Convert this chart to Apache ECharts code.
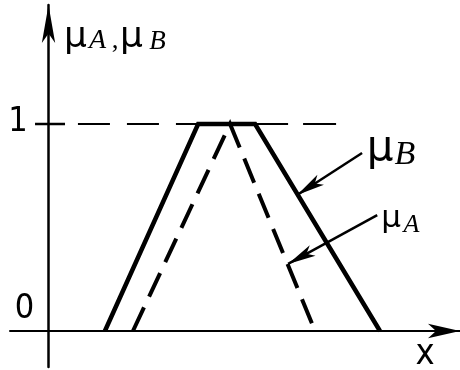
<!DOCTYPE html>
<html>
<head>
<meta charset="utf-8">
<script src="https://cdn.jsdelivr.net/npm/echarts@6.0.0/dist/echarts.min.js"></script>
<style>
  html, body { margin: 0; padding: 0; background: #fff; }
  #chart { width: 460px; height: 370px; }
</style>
</head>
<body>
<div id="chart"></div>
<script>
// Membership function B: trapezoid (solid)
const bX = [2.05, 5.44, 7.51, 12.05];
const bY = [0, 1, 1, 0];
// Membership function A: triangle (dashed)
const aX = [3.07, 6.6, 9.69];
const aY = [0, 1, 0];
// Dashed level mu = 1, interrupted where the top of B lies on it
const levelY = 1;
const levelSegments = [[1.07, 5.44], [7.51, 10.53]];
// Short solid tick crossing the y axis at mu = 1
const levelTick = [-0.49, 0.6];
// Leader lines from the curve labels: [x at curve, y at curve, x at label, y at label]
const leaderB = [9.04, 0.657, 11.4, 0.86];
const leaderA = [8.71, 0.324, 11.95, 0.56];
// Tick labels on the y axis
const yTickValues = [0, 1];
const yTickLabels = ['0', '1'];
// Axis ranges
const xRange = [-1.4, 14.96];
const yRange = [-0.174, 1.575];

const MU_FONT = '"DejaVu Sans", "Liberation Sans", sans-serif';
const SUB_FONT = '"Liberation Serif", "DejaVu Serif", serif';
const LABEL_FONT = '"Liberation Sans Narrow", "DejaVu Sans Condensed", "Liberation Sans", sans-serif';

function pairs(xs, ys) { return xs.map((x, i) => [x, ys[i]]); }

function txt(text, x, y, size, family, italic) {
  return {
    type: 'text', x: x, y: y, silent: true,
    style: {
      text: text, fill: '#000', fontSize: size, fontFamily: family,
      fontStyle: italic ? 'italic' : 'normal',
      align: 'center', verticalAlign: 'middle'
    }
  };
}

const chart = echarts.init(document.getElementById('chart'), null, { renderer: 'canvas' });

const leaderLine = (l) => [
  { coord: [l[0], l[1]], symbol: 'arrow', symbolSize: [9, 28] },
  { coord: [l[2], l[3]], symbol: 'none' }
];

chart.setOption({
  animation: false,
  backgroundColor: '#fff',
  grid: { left: 10, right: 0, top: 5, bottom: 3, containLabel: false, outerBoundsMode: 'none' },
  xAxis: {
    type: 'value', min: xRange[0], max: xRange[1],
    axisLine: {
      onZero: true, symbol: ['none', 'arrow'], symbolSize: [11, 32],
      lineStyle: { color: '#000', width: 2 }
    },
    axisTick: { show: false }, axisLabel: { show: false }, splitLine: { show: false }
  },
  yAxis: {
    type: 'value', min: yRange[0], max: yRange[1],
    axisLine: {
      onZero: true, symbol: ['none', 'arrow'], symbolSize: [10, 38],
      lineStyle: { color: '#000', width: 2.5 }
    },
    axisTick: { show: false }, axisLabel: { show: false }, splitLine: { show: false }
  },
  series: [
    {
      type: 'line', name: 'level', data: levelSegments[0].map(x => [x, levelY]),
      showSymbol: false, silent: true,
      lineStyle: { color: '#000', width: 2, type: [32, 17] }
    },
    {
      type: 'line', name: 'level', data: levelSegments[1].map(x => [x, levelY]),
      showSymbol: false, silent: true,
      lineStyle: { color: '#000', width: 2, type: [33, 15] }
    },
    {
      type: 'line', name: 'tick', data: levelTick.map(x => [x, levelY]),
      showSymbol: false, silent: true,
      lineStyle: { color: '#000', width: 2.5 }
    },
    {
      type: 'line', name: 'μB', data: pairs(bX, bY),
      showSymbol: false, silent: true,
      lineStyle: { color: '#000', width: 4.5, join: 'miter' },
      markLine: {
        silent: true, animation: false, label: { show: false },
        lineStyle: { color: '#000', width: 2.5, type: 'solid' },
        data: [leaderLine(leaderB)]
      }
    },
    {
      type: 'line', name: 'μA', data: pairs(aX, aY),
      showSymbol: false, silent: true,
      lineStyle: { color: '#000', width: 4, type: [26, 12], join: 'miter' },
      markLine: {
        silent: true, animation: false, label: { show: false },
        lineStyle: { color: '#000', width: 2.5, type: 'solid' },
        data: [leaderLine(leaderA)]
      }
    }
  ],
  graphic: [
    // y axis title: mu_A, mu_B
    txt('μ', 75.5, 38, 36, MU_FONT, false),
    txt('A', 97.5, 41, 28, SUB_FONT, true),
    txt(',', 115, 41, 27, SUB_FONT, false),
    txt('μ', 131.5, 38, 36, MU_FONT, false),
    txt('B', 157.5, 41.5, 27, SUB_FONT, true),
    // curve labels
    txt('μ', 380, 149, 42, MU_FONT, false),
    txt('B', 405, 155, 34, SUB_FONT, true),
    txt('μ', 391, 219, 31, MU_FONT, false),
    txt('A', 411.5, 225, 26, SUB_FONT, true),
    // x axis title
    txt('x', 425, 355, 36, LABEL_FONT, false)
  ]
});

// Tick labels on the y axis, placed from the axis scale
const tickGraphics = yTickValues.map((v, i) => {
  const p = chart.convertToPixel({ gridIndex: 0 }, [0, v]);
  // "0" sits above the x axis, "1" beside the unit tick
  const dx = v === 0 ? -24 : -30.5;
  const dy = v === 0 ? -22 : -2;
  return txt(yTickLabels[i], p[0] + dx, p[1] + dy, 34, LABEL_FONT, false);
});
chart.setOption({ graphic: tickGraphics.map((g, i) => Object.assign({ id: 'tick' + i }, g)) });
</script>
</body>
</html>
